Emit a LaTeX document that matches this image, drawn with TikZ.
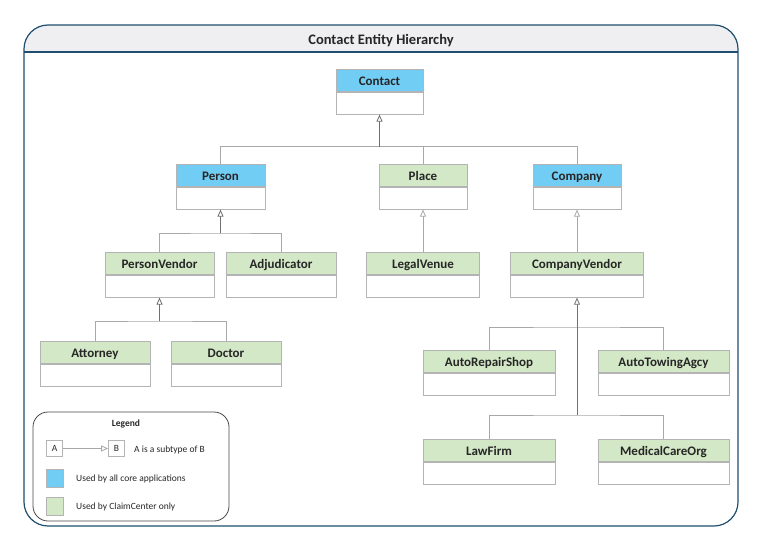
\documentclass[tikz,border=0pt]{standalone}
\usepackage{fontspec}
\setmainfont{Carlito}
\usetikzlibrary{positioning,arrows.meta}

\definecolor{coreblue}{HTML}{72CDF4}
\definecolor{ccgreen}{HTML}{D3E8C6}
\definecolor{boxline}{HTML}{B4B4B4}
\definecolor{stemline}{HTML}{707070}
\definecolor{branchline}{HTML}{A8A8A8}
\definecolor{framecol}{HTML}{1F4E6E}
\definecolor{titlebg}{HTML}{EFEFF1}
\definecolor{txt}{HTML}{262626}

\tikzset{
  hdr/.style={rectangle, draw=boxline, line width=0.8pt, anchor=north, minimum height=22pt, inner sep=0pt, text height=11pt, text depth=1pt, text=txt, font=\bfseries\fontsize{13}{15}\selectfont},
  core/.style={hdr, fill=coreblue},
  cconly/.style={hdr, fill=ccgreen},
  body/.style={rectangle, draw=boxline, line width=0.8pt, fill=white, minimum height=22pt, inner sep=0pt},
  isa/.style={-{Triangle[open, length=7pt, width=6pt, fill=white]}, line width=0.8pt},
  stem/.style={isa, draw=stemline},
  branch/.style={draw=branchline, line width=0.8pt},
  legtext/.style={anchor=west, inner sep=0pt, text=txt, font=\fontsize{9.5}{11}\selectfont}
}

\begin{document}
\begin{tikzpicture}[x=1pt, y=-1pt]
    \useasboundingbox (0,0) rectangle (763,551);

    % frame and title
    \begin{scope}
      \clip[rounded corners=24pt] (24,25) rectangle (738,526);
      \fill[titlebg] (24,25) rectangle (738,52);
    \end{scope}
    \draw[framecol, line width=1.2pt, rounded corners=24pt] (24,25) rectangle (738,526);
    \draw[framecol, line width=1.2pt] (24,52) -- (738,52);
    \node(title)[text=txt, font=\bfseries\fontsize{14.5}{16}\selectfont] at (381,40.5) {Contact Entity Hierarchy};

    % classes
    \node(contact)[core, minimum width=87pt] at (379.5,69) {Contact};
    \node(contact-b)[body, minimum width=87pt, below=0pt of contact] {};

    \node(person)[core, minimum width=89pt] at (220.5,164) {Person};
    \node(person-b)[body, minimum width=89pt, below=0pt of person] {};
    \node(place)[cconly, minimum width=88pt] at (423,164) {Place};
    \node(place-b)[body, minimum width=88pt, below=0pt of place] {};
    \node(company)[core, minimum width=88pt] at (577,164) {Company};
    \node(company-b)[body, minimum width=88pt, below=0pt of company] {};

    \node(personvendor)[cconly, minimum width=109pt] at (159.5,252) {PersonVendor};
    \node(personvendor-b)[body, minimum width=109pt, below=0pt of personvendor] {};
    \node(adjudicator)[cconly, minimum width=110pt] at (281,252) {Adjudicator};
    \node(adjudicator-b)[body, minimum width=110pt, below=0pt of adjudicator] {};
    \node(legalvenue)[cconly, minimum width=113pt] at (423,252) {LegalVenue};
    \node(legalvenue-b)[body, minimum width=113pt, below=0pt of legalvenue] {};
    \node(companyvendor)[cconly, minimum width=133pt] at (577,252) {CompanyVendor};
    \node(companyvendor-b)[body, minimum width=133pt, below=0pt of companyvendor] {};

    \node(attorney)[cconly, minimum width=110pt] at (95,341) {Attorney};
    \node(attorney-b)[body, minimum width=110pt, below=0pt of attorney] {};
    \node(doctor)[cconly, minimum width=110pt] at (226,341) {Doctor};
    \node(doctor-b)[body, minimum width=110pt, below=0pt of doctor] {};

    \node(autorepair)[cconly, minimum width=132pt] at (489,350) {AutoRepairShop};
    \node(autorepair-b)[body, minimum width=132pt, below=0pt of autorepair] {};
    \node(autotowing)[cconly, minimum width=131pt] at (663.5,350) {AutoTowingAgcy};
    \node(autotowing-b)[body, minimum width=131pt, below=0pt of autotowing] {};
    \node(lawfirm)[cconly, minimum width=132pt] at (489,439) {LawFirm};
    \node(lawfirm-b)[body, minimum width=132pt, below=0pt of lawfirm] {};
    \node(medicalcare)[cconly, minimum width=131pt] at (663.5,439) {MedicalCareOrg};
    \node(medicalcare-b)[body, minimum width=131pt, below=0pt of medicalcare] {};

    % subtype connectors
    \coordinate(j-contact) at (379.5,146.5);
    \draw[branch] (person.north) |- (j-contact) -| (company.north);
    \draw[branch] (place.north) -- (place.north |- j-contact);
    \draw[stem] (j-contact) -- (contact-b.south);

    \coordinate(j-person) at (220.5,233);
    \draw[branch] (personvendor.north) |- (j-person) -| (adjudicator.north);
    \draw[stem] (j-person) -- (person-b.south);

    \draw[branch, isa] (legalvenue.north) -- (place-b.south);
    \draw[branch, isa] (companyvendor.north) -- (company-b.south);

    \coordinate(j-personvendor) at (159.5,321);
    \draw[branch] (attorney.north) |- (j-personvendor) -| (doctor.north);
    \draw[stem] (j-personvendor) -- (personvendor-b.south);

    \coordinate(j-vendor1) at (577,327);
    \coordinate(j-vendor2) at (577,415);
    \draw[branch] (autorepair.north) |- (j-vendor1) -| (autotowing.north);
    \draw[branch] (lawfirm.north) |- (j-vendor2) -| (medicalcare.north);
    \draw[stem] (j-vendor2) -- (companyvendor-b.south);

    % legend
    \draw[txt!85, line width=0.8pt, rounded corners=15pt] (33,412) rectangle (229,521);
    \node(legend)[text=txt, font=\bfseries\fontsize{9.5}{11}\selectfont] at (126,424) {Legend};
    \node(a)[rectangle, draw=boxline, line width=0.8pt, minimum size=16pt, inner sep=0pt, text=txt, font=\fontsize{9.5}{11}\selectfont] at (54.5,448.5) {A};
    \node(b)[rectangle, draw=boxline, line width=0.8pt, minimum size=16pt, inner sep=0pt, text=txt, font=\fontsize{9.5}{11}\selectfont] at (116.5,448.5) {B};
    \draw[branch, isa] (a) -- (b);
    \node(subtype)[legtext] at (134,449.5) {A is a subtype of B};
    \node(blue)[rectangle, draw=boxline, line width=0.8pt, fill=coreblue, minimum width=17pt, minimum height=18pt, inner sep=0pt] at (54.5,478) {};
    \node(blue-t)[legtext] at (76,479) {Used by all core applications};
    \node(green)[rectangle, draw=boxline, line width=0.8pt, fill=ccgreen, minimum width=17pt, minimum height=18pt, inner sep=0pt] at (54.5,506) {};
    \node(green-t)[legtext] at (76,507) {Used by ClaimCenter only};

  \end{tikzpicture}
\end{document}
